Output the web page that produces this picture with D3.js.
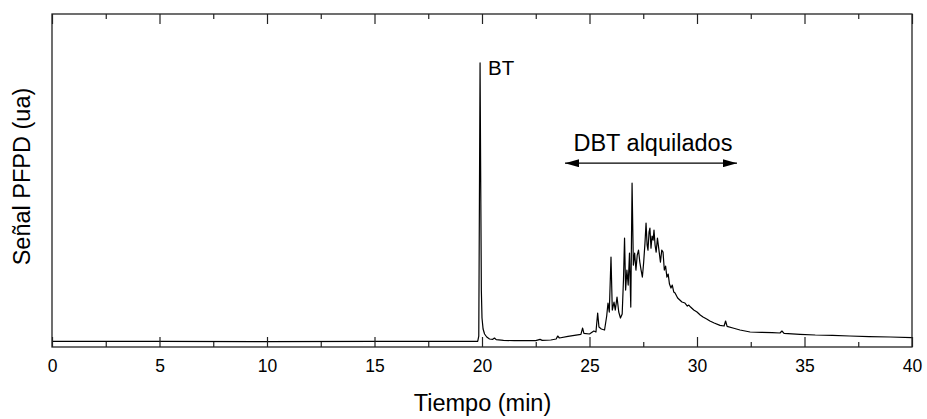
<!DOCTYPE html>
<html>
<head>
<meta charset="utf-8">
<script src="https://cdn.jsdelivr.net/npm/d3@7"></script>
<style>
  html, body { margin: 0; padding: 0; background: #fff; }
  svg { display: block; font-family: "Liberation Sans", Arial, sans-serif; }
</style>
</head>
<body>
<svg id="chart" width="927" height="419"></svg>
<script>
// ---- Data ----
const timeMin = [
  0, 5, 10, 15, 19.0, 19.80, 19.85, 19.88, 19.91, 19.94, 19.97, 20.00, 20.05, 20.12, 20.22, 20.35,
  20.50, 20.58, 20.66, 21.0, 21.5, 22.0, 22.5, 22.7, 22.8, 23.2, 23.45, 23.52, 23.6, 24.0, 24.3,
  24.6, 24.68, 24.74, 25.0, 25.2, 25.3, 25.38, 25.44, 25.55, 25.7, 25.8, 25.86, 25.92, 26.0, 26.06,
  26.14, 26.2, 26.28, 26.36, 26.44, 26.52, 26.58, 26.63, 26.68, 26.74, 26.80, 26.86, 26.92, 26.98,
  27.04, 27.10, 27.16, 27.22, 27.28, 27.34, 27.40, 27.46, 27.52, 27.58, 27.63, 27.68, 27.72, 27.77,
  27.81, 27.86, 27.91, 27.96, 28.0, 28.05, 28.10, 28.16, 28.23, 28.3, 28.36, 28.42, 28.48, 28.54,
  28.6, 28.66, 28.72, 28.79, 28.85, 28.92, 28.98, 29.1, 29.2, 29.3, 29.44, 29.55, 29.62, 29.7,
  29.85, 30.0, 30.15, 30.28, 30.45, 30.6, 30.8, 31.07, 31.26, 31.33, 31.4, 31.67, 32.0, 32.47,
  33.0, 33.5, 33.86, 33.95, 34.05, 34.79, 35.5, 36.3, 37.1, 38.0, 39.0, 40.0
];
const signal = [
  1.7, 1.7, 1.6, 1.7, 1.7, 1.7, 3.3, 44, 85.3, 50, 17, 8.7, 5.4, 3.9, 3.0, 2.4,
  2.3, 2.7, 2.2, 2.0, 1.9, 1.9, 1.9, 2.3, 2.0, 2.1, 2.4, 3.3, 2.7, 3.2, 3.5,
  3.8, 5.7, 4.1, 3.9, 4.8, 4.5, 10.2, 6.0, 5.4, 5.1, 9.3, 13.2, 10.5, 27.0, 11.1,
  13.5, 11.1, 15.0, 10.5, 8.7, 9.9, 20.1, 32.7, 17.1, 23.1, 18.6, 28.2, 12.0, 49.2,
  24.6, 28.2, 23.1, 27.6, 29.1, 25.5, 23.1, 21.0, 25.5, 31.2, 37.2, 30.6, 29.1, 34.5,
  35.7, 29.7, 33.3, 32.1, 35.1, 30.6, 28.5, 32.7, 29.1, 25.5, 29.1, 28.5, 23.1, 24.3,
  21.0, 21.9, 18.9, 17.7, 18.6, 16.5, 16.2, 14.7, 14.1, 13.5, 13.2, 12.3, 12.6, 12.0,
  11.1, 10.5, 9.6, 9.0, 8.4, 7.8, 7.2, 6.5, 6.3, 7.8, 6.2, 5.7, 5.1, 4.5,
  4.4, 4.3, 4.2, 4.8, 4.1, 3.8, 3.6, 3.5, 3.3, 3.1, 3.0, 2.8
];
const majorTicks = [0, 5, 10, 15, 20, 25, 30, 35, 40];
const minorTicks = [2.5, 7.5, 12.5, 17.5, 22.5, 27.5, 32.5, 37.5];
const xDomain = [0, 40];
const yDomain = [0, 100];

const xTitle = "Tiempo (min)";
const yTitle = "Señal PFPD (ua)";
const btLabel = "BT";
const btLabelAt = [20.28, 81.7];         // [time, signal]
const dbtLabel = "DBT alquilados";
const dbtArrow = [23.86, 31.86, 55.2];   // [from time, to time, signal]
const dbtLabelAt = [27.95, 58.8];

// ---- Layout ----
const W = 927, H = 419;
const m = { left: 52, right: 15, top: 14, bottom: 72 };
const svg = d3.select("#chart");

const x = d3.scaleLinear().domain(xDomain).range([m.left, W - m.right]);
const y = d3.scaleLinear().domain(yDomain).range([H - m.bottom, m.top]);

// arrow marker defs
const defs = svg.append("defs");
["start", "end"].forEach(k => {
  defs.append("marker")
    .attr("id", "arr-" + k)
    .attr("viewBox", "0 0 14 8")
    .attr("refX", k === "end" ? 14 : 0).attr("refY", 4)
    .attr("markerWidth", 14).attr("markerHeight", 8)
    .attr("markerUnits", "userSpaceOnUse")
    .attr("orient", "auto")
    .append("path")
    .attr("d", k === "end" ? "M0,0 L14,4 L0,8 Z" : "M14,0 L0,4 L14,8 Z")
    .attr("fill", "#000");
});

// data line
const pts = timeMin.map((t, i) => [t, signal[i]]);
svg.append("path")
  .datum(pts)
  .attr("fill", "none")
  .attr("stroke", "#000")
  .attr("stroke-width", 1.2)
  .attr("stroke-linejoin", "round")
  .attr("d", d3.line().x(d => x(d[0])).y(d => y(d[1])));

// axes (ticks inward)
function styleAxis(g) {
  g.select(".domain").remove();
  g.selectAll("line").attr("stroke", "#222").attr("stroke-width", 1.2);
  g.selectAll("text").attr("fill", "#000").style("font-size", "17.5px")
    .style("font-family", '"Liberation Sans", Arial, sans-serif');
}
const xb = svg.append("g").attr("transform", `translate(0,${H - m.bottom})`)
  .call(d3.axisBottom(x).tickValues(majorTicks).tickSize(-10).tickPadding(13).tickFormat(d3.format("d")));
styleAxis(xb);
const xbm = svg.append("g").attr("transform", `translate(0,${H - m.bottom})`)
  .call(d3.axisBottom(x).tickValues(minorTicks).tickSize(-5).tickFormat(""));
styleAxis(xbm);
const xt = svg.append("g").attr("transform", `translate(0,${m.top})`)
  .call(d3.axisTop(x).tickValues(majorTicks).tickSize(-10).tickFormat(""));
styleAxis(xt);
const xtm = svg.append("g").attr("transform", `translate(0,${m.top})`)
  .call(d3.axisTop(x).tickValues(minorTicks).tickSize(-5).tickFormat(""));
styleAxis(xtm);

// frame
svg.append("rect")
  .attr("x", m.left).attr("y", m.top)
  .attr("width", W - m.left - m.right).attr("height", H - m.top - m.bottom)
  .attr("fill", "none").attr("stroke", "#222").attr("stroke-width", 1.3);

// titles
svg.append("text")
  .attr("x", (m.left + W - m.right) / 2 + 0.5).attr("y", 411)
  .attr("text-anchor", "middle").style("font-size", "23.5px").attr("fill", "#000")
  .text(xTitle);
svg.append("text")
  .attr("transform", `translate(30,${(m.top + H - m.bottom) / 2 - 4}) rotate(-90)`)
  .attr("text-anchor", "middle").style("font-size", "23.5px").attr("fill", "#000")
  .text(yTitle);

// annotations
svg.append("text")
  .attr("x", x(btLabelAt[0])).attr("y", y(btLabelAt[1]))
  .style("font-size", "20.5px").attr("fill", "#000")
  .text(btLabel);
svg.append("line")
  .attr("x1", x(dbtArrow[0])).attr("x2", x(dbtArrow[1]))
  .attr("y1", y(dbtArrow[2])).attr("y2", y(dbtArrow[2]))
  .attr("stroke", "#000").attr("stroke-width", 1.3)
  .attr("marker-start", "url(#arr-start)").attr("marker-end", "url(#arr-end)");
svg.append("text")
  .attr("x", x(dbtLabelAt[0])).attr("y", y(dbtLabelAt[1]))
  .attr("text-anchor", "middle").style("font-size", "23.5px").attr("fill", "#000")
  .text(dbtLabel);
</script>
</body>
</html>
